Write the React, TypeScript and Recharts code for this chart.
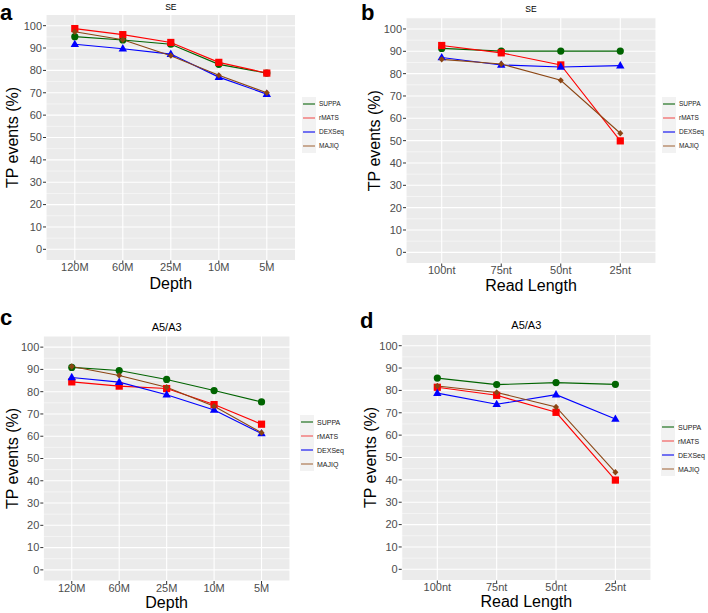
import React from 'react';
import { LineChart, Line, XAxis, YAxis, CartesianGrid, Legend } from 'recharts';

const depthCategories = ['120M', '60M', '25M', '10M', '5M'];
const readLengthCategories = ['100nt', '75nt', '50nt', '25nt'];
const yTicks = [0, 10, 20, 30, 40, 50, 60, 70, 80, 90, 100];
const minorTicks = [5, 15, 25, 35, 45, 55, 65, 75, 85, 95];
const methods = ['SUPPA', 'rMATS', 'DEXSeq', 'MAJIQ'];

// Panel a: SE vs depth
const seDepthSUPPA = [95.1, 93.6, 91.7, 82.7, 78.8];
const seDepthRMATS = [98.7, 96.0, 92.5, 83.6, 78.8];
const seDepthDEXSeq = [91.7, 89.7, 87.3, 77.0, 69.4];
const seDepthMAJIQ = [97.3, 93.7, 86.6, 77.8, 70.0];

// Panel b: SE vs read length
const seReadSUPPA = [91.3, 90.1, 90.1, 90.1];
const seReadRMATS = [92.6, 89.3, 83.9, 49.9];
const seReadDEXSeq = [87.2, 83.9, 83.0, 83.6];
const seReadMAJIQ = [86.4, 84.3, 77.0, 53.3];

// Panel c: A5/A3 vs depth
const a5DepthSUPPA = [90.9, 89.5, 85.5, 80.5, 75.4];
const a5DepthRMATS = [84.4, 82.5, 81.4, 74.2, 65.4];
const a5DepthDEXSeq = [86.4, 84.3, 78.6, 71.8, 61.2];
const a5DepthMAJIQ = [91.3, 87.3, 82.0, 73.5, 61.6];

// Panel d: A5/A3 vs read length
const a5ReadSUPPA = [85.5, 82.6, 83.5, 82.7];
const a5ReadRMATS = [81.4, 77.8, 70.2, 39.9];
const a5ReadDEXSeq = [78.8, 73.8, 78.1, 67.2];
const a5ReadMAJIQ = [82.0, 79.1, 72.6, 43.4];

const FONT = "'Liberation Sans', Arial, Helvetica, sans-serif";
const W = 708;
const H = 613;
const Y_AXIS_W = 40;
const X_AXIS_H = 32;

const colors: Record<string, string> = {
  SUPPA: '#006400',
  rMATS: '#FF0000',
  DEXSeq: '#0000FF',
  MAJIQ: '#8B4513',
};
const legendColors: Record<string, string> = {
  SUPPA: '#2F7A2F',
  rMATS: '#F26B6B',
  DEXSeq: '#2B2BF0',
  MAJIQ: '#B0805E',
};
const shapes: Record<string, string> = {
  SUPPA: 'circle',
  rMATS: 'square',
  DEXSeq: 'triangle',
  MAJIQ: 'diamond',
};

const makeDot = (shape: string, color: string) => (p: any) => {
  const { cx, cy, index } = p;
  const k = `${shape}-${index}`;
  if (cx == null || cy == null) return <g key={k} />;
  if (shape === 'circle') return <circle key={k} cx={cx} cy={cy} r={3.6} fill={color} />;
  if (shape === 'square') return <rect key={k} x={cx - 3.6} y={cy - 3.6} width={7.2} height={7.2} fill={color} />;
  if (shape === 'triangle')
    return <polygon key={k} points={`${cx},${cy - 4.6} ${cx + 4.2},${cy + 2.8} ${cx - 4.2},${cy + 2.8}`} fill={color} />;
  return <polygon key={k} points={`${cx},${cy - 3.2} ${cx + 3},${cy} ${cx},${cy + 3.2} ${cx - 3},${cy}`} fill={color} />;
};

type PanelCfg = {
  letter: string;
  letterX: number;
  letterY: number;
  title: string;
  titleY: number;
  titleSize: number;
  cats: string[];
  values: number[][];
  xLabel: string;
  xLabelBaseline: number;
  yLabelX: number;
  plot: { l: number; r: number; t: number; b: number };
  legend: { left: number; top: number; fontSize: number; row: number };
};

const panels: PanelCfg[] = [
  {
    letter: 'a', letterX: 0, letterY: 20, title: 'SE', titleY: 9.8, titleSize: 8.5,
    cats: depthCategories,
    values: [seDepthSUPPA, seDepthRMATS, seDepthDEXSeq, seDepthMAJIQ],
    xLabel: 'Depth', xLabelBaseline: 288.5, yLabelX: 12,
    plot: { l: 46, r: 295.6, t: 14.5, b: 260.5 },
    legend: { left: 302, top: 97, fontSize: 6.5, row: 14 },
  },
  {
    letter: 'b', letterX: 361, letterY: 20, title: 'SE', titleY: 11.5, titleSize: 8.5,
    cats: readLengthCategories,
    values: [seReadSUPPA, seReadRMATS, seReadDEXSeq, seReadMAJIQ],
    xLabel: 'Read Length', xLabelBaseline: 290.5, yLabelX: 374,
    plot: { l: 406, r: 656, t: 17.8, b: 263.5 },
    legend: { left: 662, top: 97, fontSize: 6.5, row: 14 },
  },
  {
    letter: 'c', letterX: 0, letterY: 325, title: 'A5/A3', titleY: 331.2, titleSize: 11,
    cats: depthCategories,
    values: [a5DepthSUPPA, a5DepthRMATS, a5DepthDEXSeq, a5DepthMAJIQ],
    xLabel: 'Depth', xLabelBaseline: 608, yLabelX: 12,
    plot: { l: 43.3, r: 290, t: 336, b: 581 },
    legend: { left: 300, top: 415, fontSize: 7, row: 14 },
  },
  {
    letter: 'd', letterX: 360, letterY: 328, title: 'A5/A3', titleY: 329, titleSize: 11,
    cats: readLengthCategories,
    values: [a5ReadSUPPA, a5ReadRMATS, a5ReadDEXSeq, a5ReadMAJIQ],
    xLabel: 'Read Length', xLabelBaseline: 606.5, yLabelX: 370,
    plot: { l: 401.7, r: 651, t: 334.5, b: 580.5 },
    legend: { left: 661, top: 420, fontSize: 7, row: 14 },
  },
];

const makeLegend = (cfg: PanelCfg) => (props: any) => {
  const payload: any[] = (props && props.payload) || [];
  const ordered = methods
    .map((m) => payload.find((e: any) => e.value === m || e.dataKey === m))
    .filter(Boolean);
  const row = cfg.legend.row;
  return (
    <div style={{ fontFamily: FONT, fontSize: cfg.legend.fontSize, color: '#1A1A1A' }}>
      {ordered.map((entry: any) => (
        <div key={entry.value} style={{ display: 'flex', alignItems: 'center', height: row }}>
          <svg width={14} height={row} style={{ display: 'block' }}>
            <rect x={0} y={0} width={14} height={row} fill="#F2F2F2" />
            <line
              x1={1}
              x2={13}
              y1={row / 2}
              y2={row / 2}
              stroke={legendColors[entry.value] || entry.color}
              strokeWidth={1.3}
            />
          </svg>
          <span style={{ marginLeft: 3, lineHeight: 1 }}>{entry.value}</span>
        </div>
      ))}
    </div>
  );
};

function Panel({ cfg }: { cfg: PanelCfg }) {
  const { plot } = cfg;
  const n = cfg.cats.length;
  const spacing = (plot.r - plot.l) / (n + 0.2);
  const pad = 0.6 * spacing;
  const data = cfg.cats.map((c, i) => {
    const row: any = { cat: c };
    methods.forEach((m, j) => {
      row[m] = cfg.values[j][i];
    });
    return row;
  });
  const axisX = plot.l - Y_AXIS_W;
  return (
    <div style={{ position: 'absolute', left: 0, top: 0, width: W, height: H }}>
      <LineChart
        width={W}
        height={H}
        data={data}
        margin={{ top: plot.t, bottom: H - plot.b - X_AXIS_H, left: axisX, right: W - plot.r }}
        style={{ fontFamily: FONT }}
      >
        <CartesianGrid fill="#EBEBEB" stroke="#FFFFFF" strokeWidth={0.5} vertical={false} horizontalValues={minorTicks} />
        <CartesianGrid fill="none" stroke="#FFFFFF" strokeWidth={1.1} />
        <XAxis
          dataKey="cat"
          type="category"
          scale="point"
          padding={{ left: pad, right: pad }}
          interval={0}
          height={X_AXIS_H}
          tickSize={3}
          tickMargin={0}
          axisLine={false}
          tickLine={{ stroke: '#333333' }}
          tick={{ fill: '#4D4D4D', fontSize: 11, fontFamily: FONT }}
          label={{
            value: cfg.xLabel,
            position: 'insideBottom',
            offset: plot.b + X_AXIS_H - cfg.xLabelBaseline,
            fontSize: 16,
            fill: '#000000',
            fontFamily: FONT,
          }}
        />
        <YAxis
          type="number"
          domain={[-5, 105]}
          ticks={yTicks}
          interval={0}
          width={Y_AXIS_W}
          tickSize={3}
          tickMargin={1}
          axisLine={false}
          tickLine={{ stroke: '#333333' }}
          tick={{ fill: '#4D4D4D', fontSize: 11, fontFamily: FONT }}
          label={{
            value: 'TP events (%)',
            angle: -90,
            position: 'insideLeft',
            offset: cfg.yLabelX - axisX,
            fontSize: 16,
            fill: '#000000',
            fontFamily: FONT,
            style: { textAnchor: 'middle' },
          }}
        />
        {methods.map((m) => (
          <Line
            key={m}
            type="linear"
            dataKey={m}
            name={m}
            stroke={colors[m]}
            strokeWidth={1.1}
            dot={makeDot(shapes[m], colors[m])}
            activeDot={false}
            isAnimationActive={false}
          />
        ))}
        <Legend
          layout="vertical"
          align="center"
          verticalAlign="middle"
          content={makeLegend(cfg)}
          wrapperStyle={{ left: cfg.legend.left, top: cfg.legend.top, width: 'auto', height: 'auto' }}
        />
      </LineChart>
    </div>
  );
}

export default function App() {
  return (
    <div style={{ position: 'absolute', left: 0, top: 0, width: W, height: H, background: '#FFFFFF', fontFamily: FONT }}>
      {panels.map((p) => (
        <Panel key={p.letter} cfg={p} />
      ))}
      <svg width={W} height={H} style={{ position: 'absolute', left: 0, top: 0, pointerEvents: 'none' }}>
        {panels.map((p) => (
          <g key={p.letter}>
            <text x={p.letterX} y={p.letterY} fontSize={22} fontWeight="bold" fontFamily={FONT} fill="#000">
              {p.letter}
            </text>
            <text
              x={(p.plot.l + p.plot.r) / 2}
              y={p.titleY}
              fontSize={p.titleSize}
              fontFamily={FONT}
              textAnchor="middle"
              fill="#000"
            >
              {p.title}
            </text>
          </g>
        ))}
      </svg>
    </div>
  );
}
